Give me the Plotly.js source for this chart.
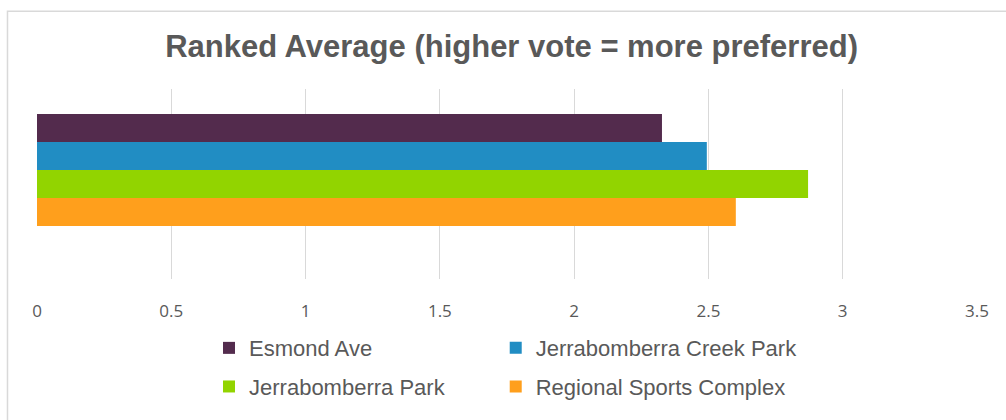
<!DOCTYPE html>
<html>
<head>
<meta charset="utf-8">
<script src="https://cdn.plot.ly/plotly-3.0.1.min.js"></script>
<style>
  html, body { margin: 0; padding: 0; background: #ffffff; overflow: hidden; }
  #chart { width: 1006px; height: 420px; }
</style>
</head>
<body>
<div id="chart"></div>
<script>
// ---- data ----
const category = ['Ranked Average'];
const seriesNames = ['Esmond Ave', 'Jerrabomberra Creek Park', 'Jerrabomberra Park', 'Regional Sports Complex'];
const seriesValues = [2.327, 2.494, 2.871, 2.602];
const seriesColors = ['#532B4D', '#218DC3', '#92D400', '#FF9F1C'];
const xTickVals = [0, 0.5, 1, 1.5, 2, 2.5, 3, 3.5];
const xTickText = ['0', '0.5', '1', '1.5', '2', '2.5', '3', '3.5'];
const legendOf = ['legend', 'legend2', 'legend', 'legend2'];

const traces = seriesNames.map((name, i) => ({
  type: 'bar',
  orientation: 'h',
  name: name,
  y: category,
  x: [seriesValues[i]],
  marker: { color: seriesColors[i], line: { width: 0 } },
  legend: legendOf[i],
  legendgroup: 'g' + i,
  hoverinfo: 'x+name'
}));

const legendFont = { family: 'Liberation Sans, Arial, sans-serif', size: 22, color: '#595959' };

const layout = {
  width: 1006,
  height: 420,
  margin: { l: 37, r: 29, t: 89, b: 134, pad: 0 },
  paper_bgcolor: '#ffffff',
  plot_bgcolor: '#ffffff',
  barmode: 'group',
  bargap: 0.411,
  bargroupgap: 0,
  title: {
    text: 'Ranked Average (higher vote = more preferred)',
    font: { family: 'Liberation Sans, Arial, sans-serif', size: 31, color: '#595959', weight: 'bold' },
    x: 0.5085, xref: 'container', xanchor: 'center',
    y: 0.8905, yref: 'container', yanchor: 'middle'
  },
  xaxis: {
    range: [0, 3.5],
    tickvals: xTickVals,
    ticktext: xTickText,
    showgrid: true,
    gridcolor: '#D9D9D9',
    gridwidth: 1,
    zeroline: false,
    showline: false,
    ticks: 'outside',
    ticklen: 17,
    tickcolor: 'rgba(0,0,0,0)',
    tickfont: { family: 'Open Sans, sans-serif', size: 17, color: '#595959' },
    fixedrange: true
  },
  yaxis: {
    type: 'category',
    range: [0.574, -0.426],
    showticklabels: false,
    showgrid: false,
    zeroline: false,
    showline: false,
    ticks: '',
    fixedrange: true
  },
  showlegend: true,
  legend: {
    x: 0.183, xref: 'paper', xanchor: 'left',
    y: -0.253, yref: 'paper', yanchor: 'top',
    orientation: 'v',
    font: legendFont,
    tracegroupgap: 7,
    bgcolor: 'rgba(0,0,0,0)'
  },
  legend2: {
    x: 0.488, xref: 'paper', xanchor: 'left',
    y: -0.253, yref: 'paper', yanchor: 'top',
    orientation: 'v',
    font: legendFont,
    tracegroupgap: 7,
    bgcolor: 'rgba(0,0,0,0)'
  },
  shapes: [{
    type: 'rect', xref: 'paper', yref: 'paper',
    x0: -0.0314, x1: 2, y0: 1.4086, y1: -2,
    line: { color: '#D9D9D9', width: 1.5 },
    fillcolor: 'rgba(0,0,0,0)',
    layer: 'below'
  }]
};

Plotly.newPlot('chart', traces, layout, { displayModeBar: false, staticPlot: true });
</script>
</body>
</html>
